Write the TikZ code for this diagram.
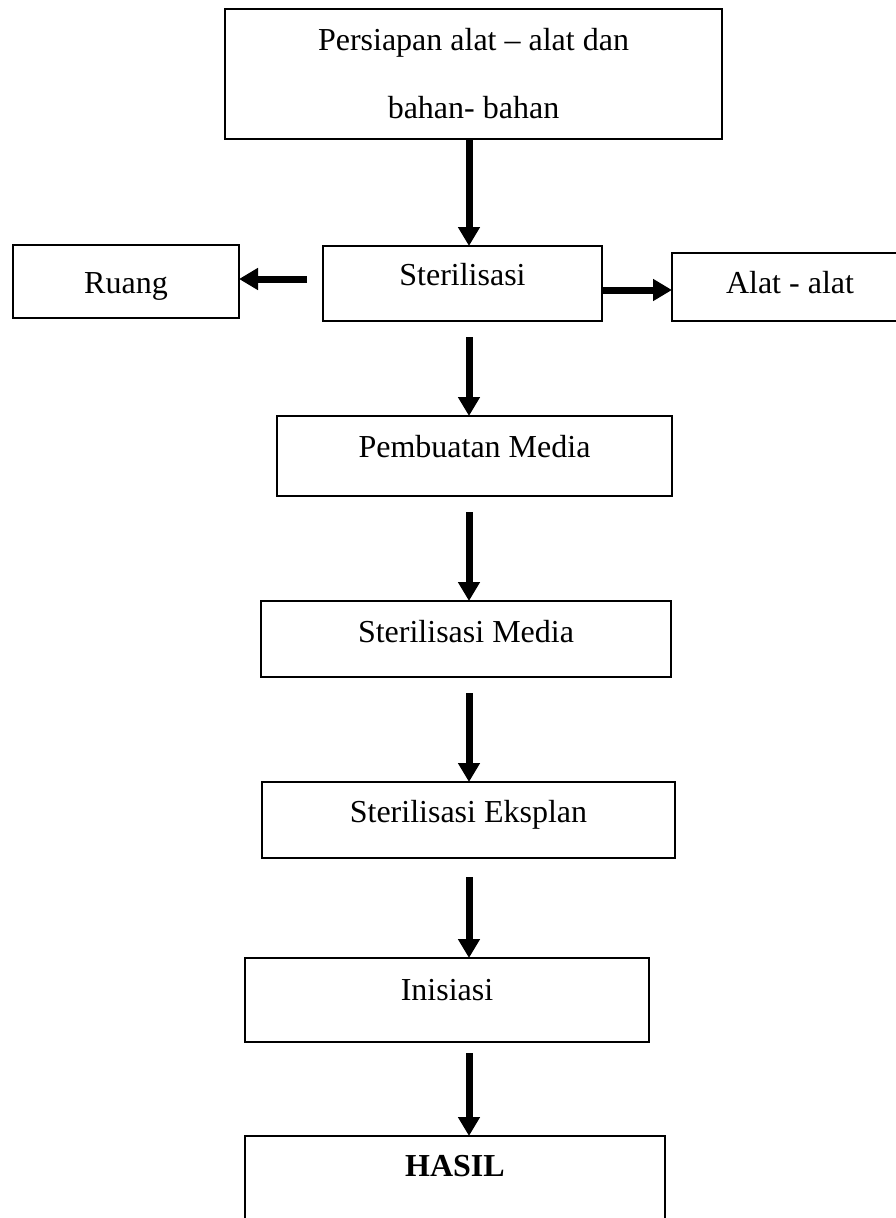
\documentclass[tikz,border=0pt]{standalone}
\usepackage{fontspec}
\setmainfont{Liberation Serif}
\usetikzlibrary{arrows.meta}
\begin{document}
\begin{tikzpicture}[x=1pt,y=-1pt,
  box/.style={draw, line width=2pt, inner sep=0pt, outer sep=0pt},
  txt/.style={anchor=base, inner sep=0pt, font=\fontsize{32}{38}\selectfont},
  arr/.style={line width=7pt, -{Triangle[width=21pt,length=19pt]}}]
\useasboundingbox (0,0) rectangle (896,1218);
\clip (0,0) rectangle (896,1218);
% boxes
\node[box, minimum width=497pt, minimum height=130pt] (top) at (473.5,74) {};
\node[box, minimum width=226pt, minimum height=73pt] (ruang) at (126,281.5) {};
\node[box, minimum width=279pt, minimum height=75pt] (ster) at (462.5,283.5) {};
\node[box, minimum width=236pt, minimum height=68pt] (alat) at (790,287) {};
\node[box, minimum width=395pt, minimum height=80pt] (pemb) at (474.5,456) {};
\node[box, minimum width=410pt, minimum height=76pt] (smed) at (466,639) {};
\node[box, minimum width=413pt, minimum height=76pt] (seks) at (468.5,820) {};
\node[box, minimum width=404pt, minimum height=84pt] (inis) at (447,1000) {};
\node[box, minimum width=420pt, minimum height=124pt] (hasil) at (455,1198) {};
% texts
\node[txt] (t1a) at (473.5,50) {Persiapan alat -- alat dan};
\node[txt] (t1b) at (473.5,118) {bahan- bahan};
\node[txt] (t2) at (126,293) {Ruang};
\node[txt] (t3) at (462.5,285) {Sterilisasi};
\node[txt] (t4) at (790,293) {Alat - alat};
\node[txt] (t5) at (474.5,457) {Pembuatan Media};
\node[txt] (t6) at (466,642) {Sterilisasi Media};
\node[txt] (t7) at (468.5,822) {Sterilisasi Eksplan};
\node[txt] (t8) at (447,1000) {Inisiasi};
\node[txt] (t9) at (455,1176) {\bfseries HASIL};
% connectors
\coordinate (ax) at (469,0);
\coordinate (yl) at (0,279);
\coordinate (yr) at (0,290);
\draw[arr] (top.south -| ax) -- (ster.north -| ax);
\draw[arr, shorten <=16pt] (ster.west |- yl) -- (ruang.east |- yl);
\draw[arr] (ster.east |- yr) -- (alat.west |- yr);
\draw[arr, shorten <=16pt] (ster.south -| ax) -- (pemb.north -| ax);
\draw[arr, shorten <=16pt] (pemb.south -| ax) -- (smed.north -| ax);
\draw[arr, shorten <=16pt] (smed.south -| ax) -- (seks.north -| ax);
\draw[arr, shorten <=19pt] (seks.south -| ax) -- (inis.north -| ax);
\draw[arr, shorten <=11pt] (inis.south -| ax) -- (hasil.north -| ax);
\end{tikzpicture}
\end{document}
